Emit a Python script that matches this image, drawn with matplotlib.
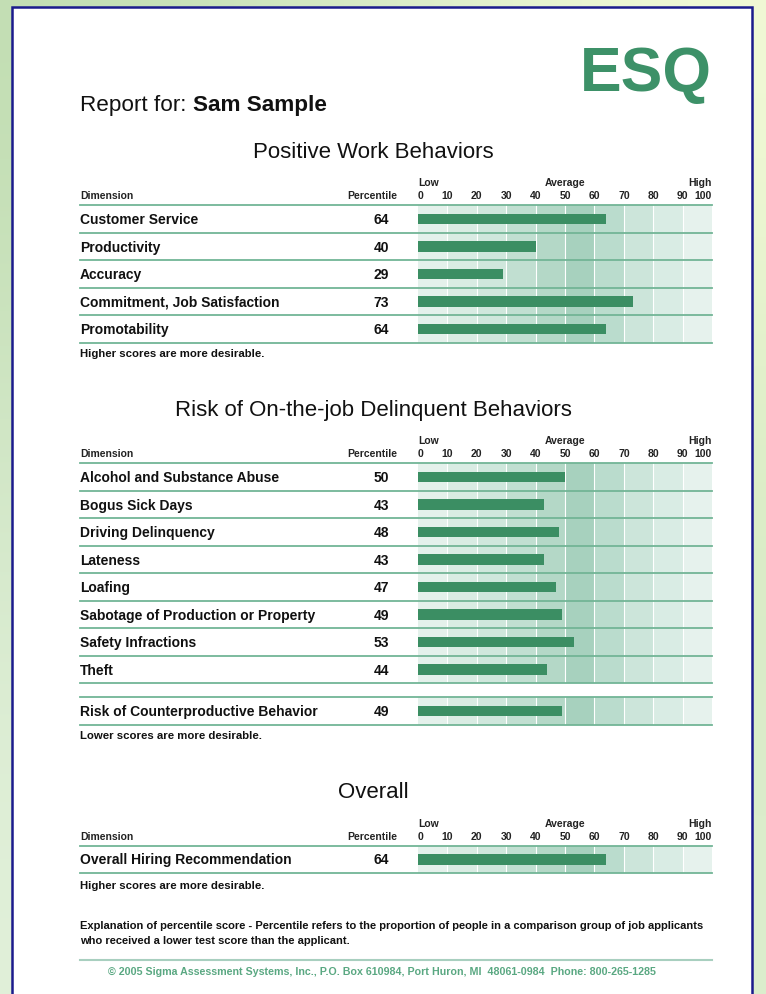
import matplotlib.pyplot as plt
import numpy as np
from matplotlib.patches import Rectangle
from matplotlib.transforms import blended_transform_factory

plt.rcParams['font.family'] = ['Liberation Sans', 'DejaVu Sans']

# --- values ---
positive_dims = ["Customer Service", "Productivity", "Accuracy",
                 "Commitment, Job Satisfaction", "Promotability"]
positive_pct = [64, 40, 29, 73, 64]

risk_dims = ["Alcohol and Substance Abuse", "Bogus Sick Days", "Driving Delinquency",
             "Lateness", "Loafing", "Sabotage of Production or Property",
             "Safety Infractions", "Theft"]
risk_pct = [50, 43, 48, 43, 47, 49, 53, 44]

summary_dims = ["Risk of Counterproductive Behavior"]
summary_pct = [49]

overall_dims = ["Overall Hiring Recommendation"]
overall_pct = [64]

scale_ticks = [0, 10, 20, 30, 40, 50, 60, 70, 80, 90, 100]
scale_words = ["Low", "Average", "High"]
scale_word_pos = [0, 50, 100]

# shading of the percentile scale, darker round the average
band_colors = ["#e4f1eb", "#d9ece3", "#cfe7dc", "#c1dfd1", "#b4d8c7",
               "#a7d1be", "#badccd", "#cce5da", "#d9ece4", "#e6f2ed"]

BAR = "#3b8e63"
RULE = "#72b596"
INK = "#111111"
GREEN = "#3d9168"

W, H = 766, 995
fig = plt.figure(figsize=(W / 100, H / 100), dpi=100)
bg = fig.add_axes([0, 0, 1, 1])
bg.set_xlim(0, W)
bg.set_ylim(H, 0)
bg.axis("off")

# pale green backdrop behind the page
backdrop = np.array([
    [[0.76, 0.87, 0.70], [0.85, 0.92, 0.78], [0.95, 0.98, 0.84]],
    [[0.83, 0.91, 0.79], [0.90, 0.95, 0.86], [0.84, 0.92, 0.76]],
    [[0.88, 0.94, 0.85], [0.92, 0.96, 0.88], [0.86, 0.93, 0.80]],
])
bg.imshow(backdrop, extent=(0, W, H, 0), interpolation="bicubic", aspect="auto", zorder=0)
bg.add_patch(Rectangle((12, 8), 740, 1100, facecolor="white", edgecolor="#1b1b8c",
                       lw=1.8, zorder=1))
bg.set_xlim(0, W)
bg.set_ylim(H, 0)

# header
bg.text(712, 91, "ESQ", ha="right", va="baseline", fontsize=45, fontweight="bold",
        color=GREEN, zorder=3)
t1 = bg.text(80, 111, "Report for: ", ha="left", va="baseline", fontsize=16.2,
             color=INK, zorder=3)
fig.canvas.draw()
ext = t1.get_window_extent(fig.canvas.get_renderer())
bg.text(80 + ext.width, 111, "Sam Sample", ha="left", va="baseline", fontsize=16.2,
        fontweight="bold", color=INK, zorder=3)


def table(top, rows, values, title=None, note=None, note_gap=10, header=True, row_h=27.5):
    n = len(rows)
    x0, x1 = 80, 712
    ax = fig.add_axes([x0 / W, 1 - (top + n * row_h) / H, (x1 - x0) / W, n * row_h / H])
    ax.set_xlim(-115, 100)
    ax.set_ylim(n, 0)
    ax.axis("off")
    for k, c in enumerate(band_colors):
        ax.axvspan(scale_ticks[k], scale_ticks[k + 1], color=c, lw=0)
    for t in scale_ticks[1:-1]:
        ax.axvline(t, color="white", lw=0.8)
    y = np.arange(n) + 0.5
    ax.barh(y, values, height=0.37, left=0, color=BAR, zorder=3)
    for i in range(n + 1):
        ax.axhline(i, color=RULE, lw=1.3, clip_on=False, zorder=4)
    for yi, name, v in zip(y, rows, values):
        ax.text(-115, yi, name, ha="left", va="center", fontsize=10, fontweight="bold", color=INK)
        ax.text(-12.6, yi, str(v), ha="center", va="center", fontsize=10, fontweight="bold",
                color=INK)

    tr = blended_transform_factory(ax.transData, bg.transData)
    if header:
        small = dict(fontsize=7.5, fontweight="bold", color="#222222", transform=tr,
                     va="center", clip_on=False)
        ax.text(-115, top - 10, "Dimension", ha="left", **small)
        ax.text(-7.1, top - 10, "Percentile", ha="right", **small)
        for t in scale_ticks:
            ha = "left" if t == 0 else ("right" if t == 100 else "center")
            ax.text(t, top - 10, str(t), ha=ha, **small)
        for w, p in zip(scale_words, scale_word_pos):
            ha = "left" if p == 0 else ("right" if p == 100 else "center")
            ax.text(p, top - 23, w, ha=ha, **small)
    if title:
        bg.text(373, top - 54, title, ha="center", va="center", fontsize=16, color=INK, zorder=3)
    if note:
        bg.text(80, top + n * row_h + note_gap, note, ha="left", va="center", fontsize=8.2,
                fontweight="bold", color=INK, zorder=3)
    return ax


table(206.3, positive_dims, positive_pct, title="Positive Work Behaviors",
      note="Higher scores are more desirable.", note_gap=10)
table(464.3, risk_dims, risk_pct, title="Risk of On-the-job Delinquent Behaviors")
table(698.3, summary_dims, summary_pct, header=False,
      note="Lower scores are more desirable.", note_gap=10)
table(846.7, overall_dims, overall_pct, title="Overall",
      note="Higher scores are more desirable.", note_gap=12)

# explanation and footer
bg.text(80, 926, "Explanation of percentile score - Percentile refers to the proportion of "
        "people in a comparison group of job applicants", ha="left", va="center",
        fontsize=8.0, fontweight="bold", color=INK, zorder=3)
bg.text(80, 941, "who received a lower test score than the applicant.", ha="left",
        va="center", fontsize=8.0, fontweight="bold", color=INK, zorder=3)
bg.plot([80, 712], [961, 961], color="#a8cfbf", lw=1.5, zorder=3)
bg.text(382, 972, "\u00a9 2005 Sigma Assessment Systems, Inc., P.O. Box 610984, Port Huron, MI  "
        "48061-0984  Phone: 800-265-1285", ha="center", va="center", fontsize=7.7,
        fontweight="bold", color="#5aa882", zorder=3)

fig.savefig("out.png", dpi=100)
